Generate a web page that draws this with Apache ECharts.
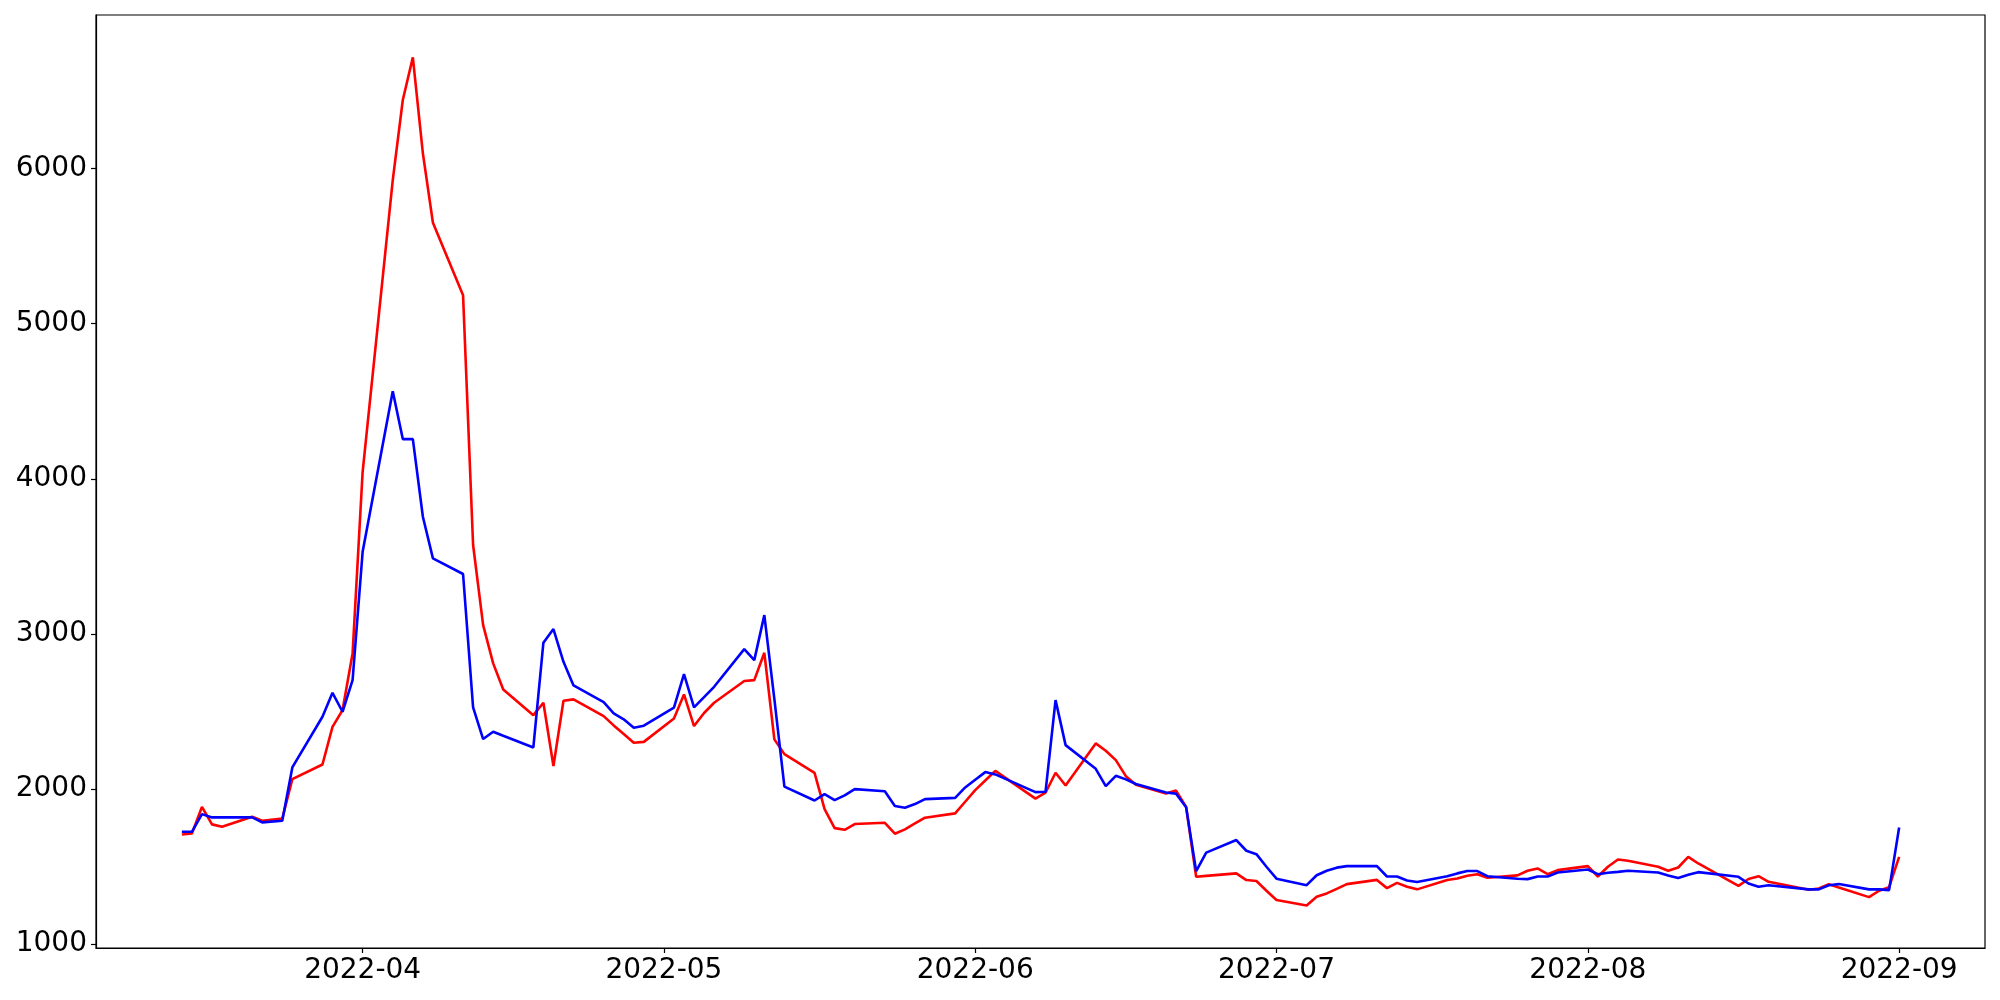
<!DOCTYPE html>
<html>
<head>
<meta charset="utf-8">
<script src="https://cdn.jsdelivr.net/npm/echarts@6/dist/echarts.min.js"></script>
<style>
html,body{margin:0;padding:0;background:#fff;}
#chart{width:2000px;height:1000px;}
</style>
</head>
<body>
<div id="chart"></div>
<script>
const dates = [
 '2022-03-14','2022-03-15','2022-03-16','2022-03-17','2022-03-18','2022-03-21','2022-03-22','2022-03-24','2022-03-25','2022-03-28','2022-03-29','2022-03-30','2022-03-31',
 '2022-04-01','2022-04-04','2022-04-05','2022-04-06','2022-04-07','2022-04-08','2022-04-11','2022-04-12','2022-04-13','2022-04-14','2022-04-15','2022-04-18','2022-04-19','2022-04-20','2022-04-21','2022-04-22','2022-04-25','2022-04-26','2022-04-27','2022-04-28','2022-04-29',
 '2022-05-02','2022-05-03','2022-05-04','2022-05-05','2022-05-06','2022-05-09','2022-05-10','2022-05-11','2022-05-12','2022-05-13','2022-05-16','2022-05-17','2022-05-18','2022-05-19','2022-05-20','2022-05-23','2022-05-24','2022-05-25','2022-05-26','2022-05-27','2022-05-30','2022-05-31',
 '2022-06-01','2022-06-02','2022-06-03','2022-06-07','2022-06-08','2022-06-09','2022-06-10','2022-06-13','2022-06-14','2022-06-15','2022-06-16','2022-06-17','2022-06-20','2022-06-21','2022-06-22','2022-06-23','2022-06-24','2022-06-27','2022-06-28','2022-06-29','2022-06-30',
 '2022-07-01','2022-07-04','2022-07-05','2022-07-06','2022-07-07','2022-07-08','2022-07-11','2022-07-12','2022-07-13','2022-07-14','2022-07-15','2022-07-18','2022-07-19','2022-07-20','2022-07-21','2022-07-22','2022-07-25','2022-07-26','2022-07-27','2022-07-28','2022-07-29',
 '2022-08-01','2022-08-02','2022-08-03','2022-08-04','2022-08-05','2022-08-08','2022-08-09','2022-08-10','2022-08-11','2022-08-12','2022-08-16','2022-08-17','2022-08-18','2022-08-19','2022-08-23','2022-08-24','2022-08-25','2022-08-26','2022-08-29','2022-08-30','2022-08-31',
 '2022-09-01'
];
const redValues = [
 1707,1713,1885,1772,1756,1821,1795,1810,2064,2158,2401,2509,2874,
 4045,5926,6442,6717,6098,5651,5184,3573,3057,2810,2642,2476,2556,2148,2569,2578,2470,2410,2354,2298,2304,
 2455,2610,2406,2490,2556,2696,2702,2878,2320,2225,2104,1870,1748,1737,1774,1782,1712,1740,1778,1815,1843,1918,
 1993,2055,2117,1938,1976,2105,2023,2294,2247,2186,2083,2028,1971,1990,1885,1434,1440,1456,1413,1407,1344,
 1284,1249,1305,1327,1356,1387,1414,1361,1395,1370,1353,1413,1423,1441,1451,1428,1443,1473,1488,1451,1477,
 1503,1436,1499,1546,1537,1499,1473,1494,1563,1520,1376,1420,1438,1402,1350,1359,1386,1365,1303,1344,1367,
 1563
];
const blueValues = [
 1724,1724,1838,1817,1817,1817,1785,1795,2139,2466,2620,2498,2702,
 3529,4565,4256,4256,3755,3487,3386,2526,2322,2369,2343,2268,2943,3031,2820,2668,2560,2487,2449,2395,2408,
 2524,2741,2526,2592,2659,2902,2831,3121,2580,2015,1926,1967,1928,1959,1999,1986,1890,1879,1903,1935,1943,2010,
 2060,2109,2094,1980,1982,2573,2283,2130,2019,2085,2062,2032,1978,1970,1883,1470,1590,1671,1602,1580,1499,
 1422,1380,1444,1473,1493,1503,1503,1436,1436,1410,1400,1438,1456,1471,1471,1438,1421,1419,1436,1436,1462,
 1481,1451,1460,1466,1473,1462,1443,1426,1447,1464,1434,1391,1370,1380,1353,1353,1380,1387,1353,1353,1348,
 1752
];
const xTickLabels = ['2022-04','2022-05','2022-06','2022-07','2022-08','2022-09'];
const yTickValues = [1000,2000,3000,4000,5000,6000];

function ts(s){ const p = s.split('-').map(Number); return Date.UTC(p[0], p[1]-1, p[2] || 1); }
const xTickValues = xTickLabels.map(ts);
const first = ts(dates[0]), last = ts(dates[dates.length-1]);
const pad = (last - first) * 0.05;

const redData = dates.map((d,i)=>[ts(d), redValues[i]]);
const blueData = dates.map((d,i)=>[ts(d), blueValues[i]]);

const FONT = 'DejaVu Sans';
const chart = echarts.init(document.getElementById('chart'), null, {renderer:'canvas'});
chart.setOption({
  animation:false,
  backgroundColor:'#ffffff',
  grid:{left:96, right:15, top:15, bottom:52, show:true, borderColor:'#000', borderWidth:1.2, backgroundColor:'transparent'},
  xAxis:{
    type:'value', min:first - pad, max:last + pad, scale:true,
    splitLine:{show:false},
    axisLine:{show:true, onZero:false, lineStyle:{color:'#000', width:1.2}},
    axisTick:{show:true, inside:false, length:5, lineStyle:{color:'#000', width:1.2}, customValues:xTickValues},
    axisLabel:{show:true, margin:9, color:'#000', fontSize:28, fontFamily:FONT, customValues:xTickValues,
      formatter:function(v){ let best=0, bd=Infinity; xTickValues.forEach((t,i)=>{const d=Math.abs(t-v); if(d<bd){bd=d;best=i;}}); return xTickLabels[best]; }}
  },
  yAxis:{
    type:'value', min:975, max:6990,
    splitLine:{show:false},
    axisLine:{show:true, onZero:false, lineStyle:{color:'#000', width:1.2}},
    axisTick:{show:true, inside:false, length:5, lineStyle:{color:'#000', width:1.2}, customValues:yTickValues},
    axisLabel:{show:true, margin:9, color:'#000', fontSize:28, fontFamily:FONT, customValues:yTickValues,
      formatter:function(v){ return String(Math.round(v)); }}
  },
  series:[
    {type:'line', data:redData, showSymbol:false, symbol:'none', lineStyle:{color:'#ff0000', width:2.6}, itemStyle:{color:'#ff0000'}},
    {type:'line', data:blueData, showSymbol:false, symbol:'none', lineStyle:{color:'#0000ff', width:2.6}, itemStyle:{color:'#0000ff'}}
  ]
});
</script>
</body>
</html>
